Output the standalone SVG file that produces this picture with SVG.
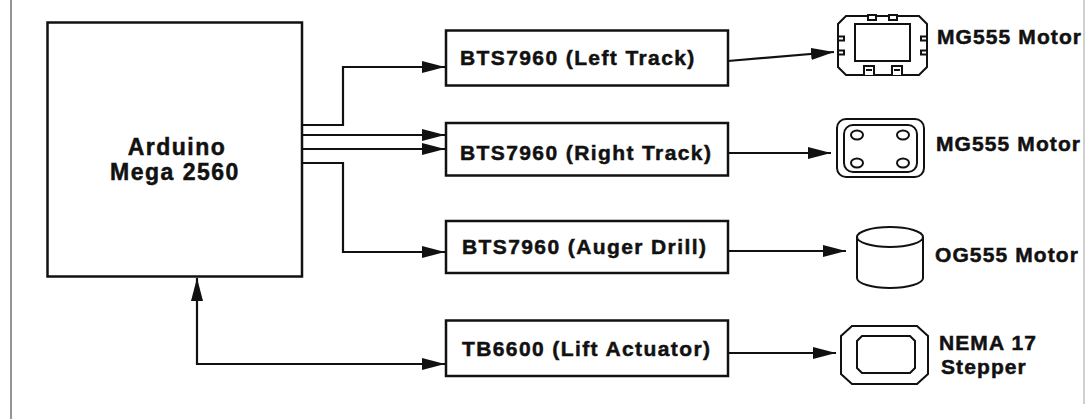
<svg xmlns="http://www.w3.org/2000/svg" width="1088" height="419" viewBox="0 0 1088 419">
<style>
.box{fill:#fff;stroke:#111;stroke-width:2.5}
.lbl{font-family:"Liberation Sans",Arial,sans-serif;font-weight:bold;font-size:21px;letter-spacing:1.4px;fill:#111;stroke:#111;stroke-width:0.5}
.mlbl{font-family:"Liberation Sans",Arial,sans-serif;font-weight:bold;font-size:21px;letter-spacing:1.1px;fill:#111;stroke:#111;stroke-width:0.5}
.big{font-family:"Liberation Sans",Arial,sans-serif;font-weight:bold;font-size:23px;letter-spacing:1.5px;fill:#111;stroke:#111;stroke-width:0.5}
.wire{fill:none;stroke:#111;stroke-width:2.2}
.sym{fill:#fff;stroke:#111;stroke-width:2}
</style>
<defs>
<marker id="arr" markerUnits="userSpaceOnUse" markerWidth="23" markerHeight="12" refX="23" refY="6" orient="auto-start-reverse">
<path d="M0,0 L23,6 L0,12 Z" fill="#111"/>
</marker>
</defs>
<rect width="1088" height="419" fill="#fff"/>
<line x1="11" y1="0" x2="11" y2="419" stroke="#8a8a8a" stroke-width="1.8"/>
<line x1="1084" y1="0" x2="1084" y2="404" stroke="#b0b0b0" stroke-width="1.2"/>

<g id="connectors">
<path class="wire" d="M302,125 H343 V67 H445" marker-end="url(#arr)"/>
<path class="wire" d="M302,135 H445" marker-end="url(#arr)"/>
<path class="wire" d="M302,149 H445" marker-end="url(#arr)"/>
<path class="wire" d="M302,163 H343 V252 H445" marker-end="url(#arr)"/>
<path class="wire" d="M197,278 V364 H445" marker-start="url(#arr)" marker-end="url(#arr)"/>
<path class="wire" d="M728,61 L834,52" marker-end="url(#arr)"/>
<path class="wire" d="M728,153 H831" marker-end="url(#arr)"/>
<path class="wire" d="M728,251 H846" marker-end="url(#arr)"/>
<path class="wire" d="M728,353 H836" marker-end="url(#arr)"/>
</g>

<g id="arduino">
<rect class="box" x="47.5" y="22.5" width="254.5" height="254"/>
<text class="big" x="177" y="155" text-anchor="middle">Arduino</text>
<text class="big" x="175" y="180" text-anchor="middle">Mega 2560</text>
</g>

<g id="drv-left">
<rect class="box" x="446" y="30.5" width="282" height="55"/>
<text class="lbl" x="460" y="65">BTS7960 (Left Track)</text>
</g>
<g id="drv-right">
<rect class="box" x="446" y="123" width="282" height="52.5"/>
<text class="lbl" x="460" y="160">BTS7960 (Right Track)</text>
</g>
<g id="drv-auger">
<rect class="box" x="446" y="221" width="282" height="52"/>
<text class="lbl" x="462" y="254">BTS7960 (Auger Drill)</text>
</g>
<g id="drv-lift">
<rect class="box" x="446" y="320.5" width="282" height="55.5"/>
<text class="lbl" x="462" y="356">TB6600 (Lift Actuator)</text>
</g>

<g id="motor-left">
<path class="sym" d="M846,16 H919 L927,24 V67 L919,75 H846 L838,67 V24 Z"/>
<rect class="sym" x="855" y="24" width="55" height="37"/>
<rect class="sym" x="868" y="15" width="8" height="5" stroke-width="1.6"/>
<rect class="sym" x="889" y="15" width="8" height="5" stroke-width="1.6"/>
<rect class="sym" x="838" y="36.5" width="6" height="4" stroke-width="1.6"/>
<rect class="sym" x="838" y="50.5" width="6" height="4" stroke-width="1.6"/>
<rect class="sym" x="921" y="36.5" width="6" height="4" stroke-width="1.6"/>
<rect class="sym" x="921" y="50.5" width="6" height="4" stroke-width="1.6"/>
<path class="sym" stroke-width="1.6" d="M864,75 V66 H874 V75 M866,70 H872"/>
<path class="sym" stroke-width="1.6" d="M892,75 V66 H902 V75 M894,70 H900"/>
<text class="mlbl" x="937" y="44">MG555 Motor</text>
</g>

<g id="motor-right">
<rect class="sym" x="837" y="119" width="87" height="58" rx="9"/>
<rect class="sym" x="844" y="125" width="73" height="47" rx="9"/>
<ellipse class="sym" cx="857" cy="135" rx="6" ry="4.5"/>
<ellipse class="sym" cx="903" cy="135" rx="6" ry="4.5"/>
<ellipse class="sym" cx="857" cy="163" rx="6" ry="4.5"/>
<ellipse class="sym" cx="903" cy="163" rx="6" ry="4.5"/>
<text class="mlbl" x="936" y="151">MG555 Motor</text>
</g>

<g id="motor-auger">
<path class="sym" d="M857,237 V278 A33,10 0 0 0 923,278 V237"/>
<ellipse class="sym" cx="890" cy="237" rx="33" ry="10"/>
<text class="mlbl" x="935" y="262">OG555 Motor</text>
</g>

<g id="motor-stepper">
<path class="sym" d="M852,326 H917 L928,336 V374 L917,384 H852 L841,374 V336 Z"/>
<path class="sym" d="M862,336 H910 L915,341 V368 L910,373 H862 L857,368 V341 Z"/>
<text class="mlbl" x="939" y="350">NEMA 17</text>
<text class="mlbl" x="941" y="374">Stepper</text>
</g>
</svg>
